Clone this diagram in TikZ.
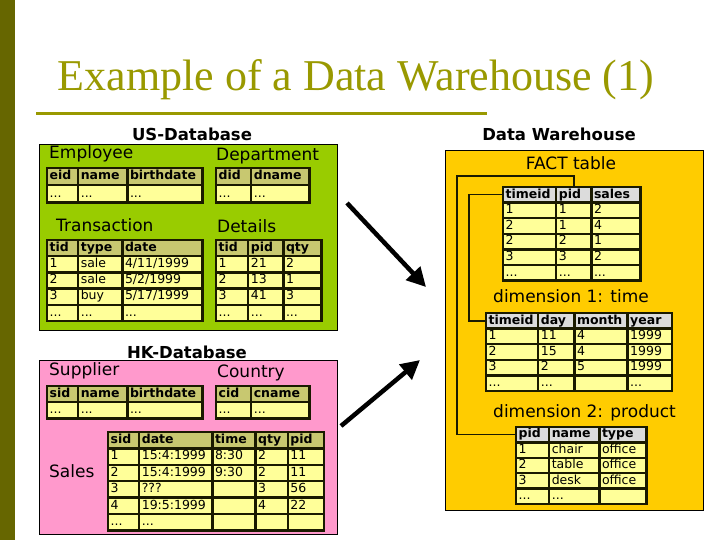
\documentclass[tikz,border=0pt]{standalone}
\usepackage{fontspec}
\setmainfont{Liberation Serif}
\newfontfamily\verd{DejaVu Sans}
\usetikzlibrary{matrix,arrows.meta}

\definecolor{olivebar}{HTML}{666600}
\definecolor{olivetxt}{HTML}{999900}
\definecolor{usgreen}{HTML}{99CC00}
\definecolor{hkpink}{HTML}{FF99CC}
\definecolor{dwgold}{HTML}{FFCC00}
\definecolor{cellyel}{HTML}{FFFF99}
\definecolor{khaki}{HTML}{C8C870}
\definecolor{lgrey}{HTML}{DCDCDC}
\definecolor{tabline}{HTML}{1A1A00}

\tikzset{
  cell/.style={draw=tabline, line width=1.2pt, fill=cellyel, outer sep=0pt,
    inner sep=0pt, text height=9pt, text depth=2.5pt, minimum height=15pt,
    font=\verd\fontsize{12.5}{14}\selectfont,
    execute at begin node={\hspace*{2pt}}},
  cw/.style={text width=#1pt},
  dbtab/.style={matrix of nodes, nodes in empty cells, nodes={cell},
    inner sep=0pt, outer sep=0pt, anchor=north west,
    row 1/.style={nodes={fill=khaki, font=\verd\bfseries\fontsize{12.5}{14}\selectfont}}},
  dwtab/.style={dbtab, nodes={minimum height=14.4pt},
    row 1/.style={nodes={fill=lgrey, font=\verd\bfseries\fontsize{12.5}{14}\selectfont}}},
  frame/.style={draw=tabline, line width=2.5pt},
  tname/.style={font=\verd\fontsize{17}{20}\selectfont, inner sep=0pt, anchor=base west},
  dbtitle/.style={font=\verd\bfseries\fontsize{16.5}{20}\selectfont, inner sep=0pt, anchor=base},
  dbbox/.style={draw=black, line width=0.8pt, anchor=north west, inner sep=0pt},
  link/.style={draw=tabline, line width=1.4pt},
  bigarrow/.style={line width=4.5pt, -{Triangle[length=19pt,width=19pt]}},
}

\begin{document}
\begin{tikzpicture}[x=1pt, y=-1pt]
  \useasboundingbox (0,0) rectangle (720,540);

  % Slide title
  \fill[olivebar] (0,0) rectangle (15,540);
  \node[font=\fontsize{44}{48}\selectfont, text=olivetxt, anchor=base, inner sep=0pt] (title) at (356,91) {Example of a Data Warehouse (1)};
  \draw[olivetxt, line width=3pt] (36,114) -- (487,114);

  % Database boxes
  \node[dbbox, fill=usgreen, minimum width=298pt, minimum height=186pt] (us) at (39,144) {};
  \node[dbbox, fill=hkpink, minimum width=298pt, minimum height=174pt] (hk) at (39,360) {};
  \node[dbbox, fill=dwgold, line width=1.2pt, minimum width=258pt, minimum height=360pt] (dw) at (445,150) {};

  % Titles and table names
  \node[dbtitle] (ustitle) at (192,141) {US-Database};
  \node[dbtitle] (hktitle) at (187,358) {HK-Database};
  \node[dbtitle] (dwtitle) at (559,141) {Data Warehouse};
  \node[tname] (empname) at (49,159) {Employee};
  \node[tname] (depname) at (216,161) {Department};
  \node[tname] (traname) at (56,231) {Transaction};
  \node[tname] (detname) at (217,233) {Details};
  \node[tname] (supname) at (49,375) {Supplier};
  \node[tname] (couname) at (217,377) {Country};
  \node[tname] (salname) at (49,477) {Sales};
  \node[tname, anchor=base] (factname) at (571,170) {FACT table};
  \node[tname] (timename) at (493,302) {dimension 1: time};
  \node[tname] (prodname) at (493,417) {dimension 2: product};

  % US-Database
  \matrix (emp) [dbtab, nodes={minimum height=16pt},
    column 1/.style={nodes={cw=30}}, column 2/.style={nodes={cw=48}},
    column 3/.style={nodes={cw=74}}] at (47,168) {
    eid & name & birthdate \\
    ... & ... & ... \\
  };
  \matrix (dep) [dbtab, nodes={minimum height=16pt},
    column 1/.style={nodes={cw=34}}, column 2/.style={nodes={cw=57}}] at (216,168) {
    did & dname \\
    ... & ... \\
  };
  \matrix (tra) [dbtab,
    column 1/.style={nodes={cw=30}}, column 2/.style={nodes={cw=43}},
    column 3/.style={nodes={cw=79}}] at (47,240) {
    tid & type & date \\
    1 & sale & 4/11/1999 \\
    2 & sale & 5/2/1999 \\
    3 & buy & 5/17/1999 \\
    ... & ... & ... \\
  };
  \matrix (det) [dbtab,
    column 1/.style={nodes={cw=31}}, column 2/.style={nodes={cw=34}},
    column 3/.style={nodes={cw=37}}] at (216,240) {
    tid & pid & qty \\
    1 & 21 & 2 \\
    2 & 13 & 1 \\
    3 & 41 & 3 \\
    ... & ... & ... \\
  };

  % HK-Database
  \matrix (sup) [dbtab,
    column 1/.style={nodes={cw=30}}, column 2/.style={nodes={cw=48}},
    column 3/.style={nodes={cw=74}}] at (47,386) {
    sid & name & birthdate \\
    ... & ... & ... \\
  };
  \matrix (cou) [dbtab,
    column 1/.style={nodes={cw=34}}, column 2/.style={nodes={cw=57}}] at (216,386) {
    cid & cname \\
    ... & ... \\
  };
  \matrix (sal) [dbtab, nodes={minimum height=15.2pt},
    column 1/.style={nodes={cw=30}}, column 2/.style={nodes={cw=72}},
    column 3/.style={nodes={cw=42}}, column 4/.style={nodes={cw=31}},
    column 5/.style={nodes={cw=35}}] at (108,432) {
    sid & date & time & qty & pid \\
    1 & 15:4:1999 & 8:30 & 2 & 11 \\
    2 & 15:4:1999 & 9:30 & 2 & 11 \\
    3 & ??? & & 3 & 56 \\
    4 & 19:5:1999 & & 4 & 22 \\
    ... & ... & & & \\
  };

  % Data Warehouse
  \matrix (fact) [dwtab,
    column 1/.style={nodes={cw=52}}, column 2/.style={nodes={cw=34}},
    column 3/.style={nodes={cw=48}}] at (503,187) {
    timeid & pid & sales \\
    1 & 1 & 2 \\
    2 & 1 & 4 \\
    2 & 2 & 1 \\
    3 & 3 & 2 \\
    ... & ... & ... \\
  };
  \matrix (time) [dwtab,
    column 1/.style={nodes={cw=51}}, column 2/.style={nodes={cw=35}},
    column 3/.style={nodes={cw=52}}, column 4/.style={nodes={cw=43}}] at (486,313) {
    timeid & day & month & year \\
    1 & 11 & 4 & 1999 \\
    2 & 15 & 4 & 1999 \\
    3 & 2 & 5 & 1999 \\
    ... & ... & & ... \\
  };
  \matrix (prod) [dwtab, nodes={minimum height=14.2pt},
    column 1/.style={nodes={cw=32}}, column 2/.style={nodes={cw=49}},
    column 3/.style={nodes={cw=46}}] at (516,427) {
    pid & name & type \\
    1 & chair & office \\
    2 & table & office \\
    3 & desk & office \\
    ... & ... & \\
  };

  % Thick table frames
  \foreach \t in {emp,dep,tra,det,sup,cou,sal,fact,time,prod}
    \draw[frame] (\t.north west) rectangle (\t.south east);

  % Keys from the fact table to the dimensions
  \coordinate (prodbend) at (457,176);
  \coordinate (timebend) at (469,250);
  \draw[link] (fact-1-2.north) |- (prodbend) |- (prod-1-1.west);
  \draw[link] (fact-1-1.west) -| (timebend) |- (time-1-1.west);

  % Loading arrows
  \coordinate (usout) at (347,203);
  \coordinate (dwin1) at (426,287);
  \coordinate (hkout) at (341,426);
  \coordinate (dwin2) at (420,360);
  \draw[bigarrow] (usout) -- (dwin1);
  \draw[bigarrow] (hkout) -- (dwin2);
\end{tikzpicture}
\end{document}
